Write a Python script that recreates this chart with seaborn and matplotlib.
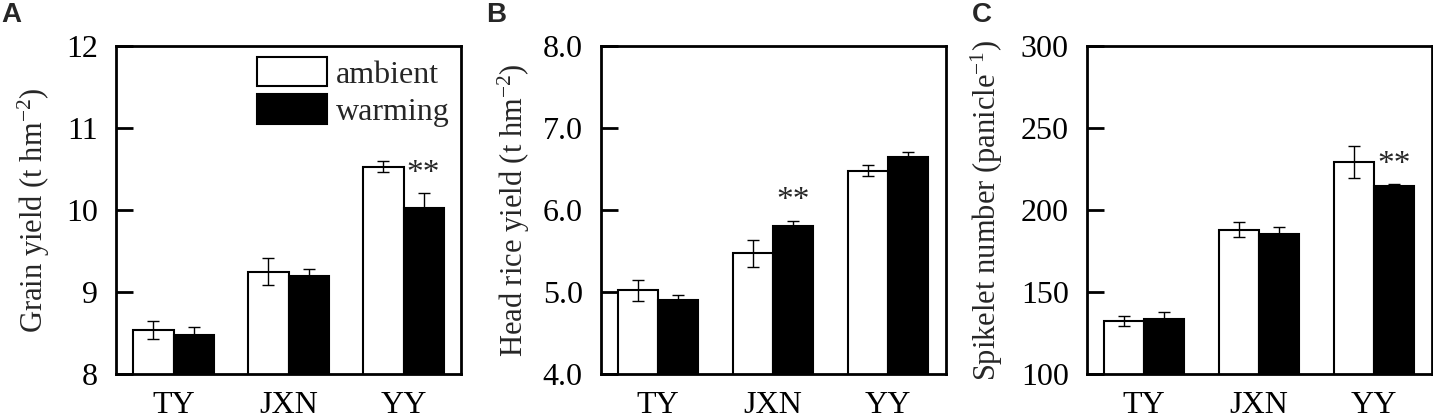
import numpy as np
import pandas as pd
import matplotlib
matplotlib.use("Agg")
import matplotlib.pyplot as plt
import seaborn as sns
from matplotlib.patches import Patch
from matplotlib.ticker import FormatStrFormatter

# cultivars and treatments
cultivars = ["TY", "JXN", "YY"]
treatments = ["ambient", "warming"]

# A: grain yield (t hm-2)
grain_amb = [8.54, 9.25, 10.53]
grain_amb_se = [0.11, 0.17, 0.07]
grain_warm = [8.47, 9.20, 10.02]
grain_warm_se = [0.10, 0.08, 0.19]

# B: head rice yield (t hm-2)
head_amb = [5.02, 5.47, 6.48]
head_amb_se = [0.13, 0.16, 0.07]
head_warm = [4.90, 5.80, 6.65]
head_warm_se = [0.06, 0.07, 0.06]

# C: spikelet number (panicle-1)
spk_amb = [132.3, 188.0, 229.3]
spk_amb_se = [3.3, 4.7, 9.9]
spk_warm = [133.3, 185.4, 214.4]
spk_warm_se = [4.7, 4.4, 1.2]

# significance marks (cultivar index on the warming bar)
stars_a = [2]
stars_b = [1]
stars_c = [2]

sns.set_style("ticks")
plt.rcParams["font.family"] = ["Liberation Serif", "DejaVu Serif"]
plt.rcParams["mathtext.fontset"] = "custom"
plt.rcParams["mathtext.rm"] = "Liberation Serif"
plt.rcParams["mathtext.it"] = "Liberation Serif:italic"

fig = plt.figure(figsize=(14.33, 4.16), dpi=100)

W, H = 1433.0, 416.0
panels = [
    dict(left=116, amb=grain_amb, amb_se=grain_amb_se, warm=grain_warm, warm_se=grain_warm_se,
         ylim=(8, 12), ticks=[8, 9, 10, 11, 12], fmt="%d", stars=stars_a,
         ylabel="Grain yield (t hm$^{\\mathrm{-2}}$)", lab_x=-0.186, letter="A", legend=True),
    dict(left=600.7, amb=head_amb, amb_se=head_amb_se, warm=head_warm, warm_se=head_warm_se,
         ylim=(4, 8), ticks=[4, 5, 6, 7, 8], fmt="%.1f", stars=stars_b,
         ylabel="Head rice yield (t hm$^{\\mathrm{-2}}$)", lab_x=-0.199, letter="B", legend=False),
    dict(left=1086.7, amb=spk_amb, amb_se=spk_amb_se, warm=spk_warm, warm_se=spk_warm_se,
         ylim=(100, 300), ticks=[100, 150, 200, 250, 300], fmt="%d", stars=stars_c,
         ylabel="Spikelet number (panicle$^{\\mathrm{-1}}$)", lab_x=-0.237, letter="C", legend=False),
]

for p in panels:
    ax = fig.add_axes([p["left"] / W, 42 / H, 345 / W, 328 / H])
    df = pd.DataFrame({
        "cultivar": cultivars * 2,
        "treatment": [treatments[0]] * 3 + [treatments[1]] * 3,
        "value": p["amb"] + p["warm"],
    })
    sns.barplot(data=df, x="cultivar", y="value", hue="treatment", order=cultivars,
                hue_order=treatments, palette=["white", "black"], edgecolor="black",
                linewidth=1.5, width=0.7, gap=0, errorbar=None, legend=False, ax=ax)

    # error bars on top of each bar
    for cont, vals, errs in zip(ax.containers, [p["amb"], p["warm"]], [p["amb_se"], p["warm_se"]]):
        xs = [b.get_x() + b.get_width() / 2 for b in cont]
        ax.errorbar(xs, vals, yerr=errs, fmt="none", ecolor="black", elinewidth=1.0,
                    capsize=4.5, capthick=1.0, zorder=5)

    warm_bars = ax.containers[1]
    for i in p["stars"]:
        b = warm_bars[i]
        ax.annotate("**", xy=(b.get_x() + b.get_width() / 2, p["warm"][i] + p["warm_se"][i]),
                    xytext=(0, 14), textcoords="offset points", ha="center", va="center",
                    fontsize=24)

    ax.set_xlim(-0.5, 2.5)
    ax.set_ylim(*p["ylim"])
    ax.set_yticks(p["ticks"])
    ax.yaxis.set_major_formatter(FormatStrFormatter(p["fmt"]))
    ax.set_xlabel("")
    ax.set_ylabel(p["ylabel"], fontsize=22)
    ax.yaxis.set_label_coords(p["lab_x"], 0.5)
    for s in ax.spines.values():
        s.set_visible(True)
        s.set_linewidth(2.0)
        s.set_color("black")
    ax.tick_params(axis="y", direction="in", length=12, width=2.0, labelsize=23, pad=13, colors="black")
    ax.tick_params(axis="x", length=0, labelsize=23, pad=12, colors="black")

    if p["legend"]:
        handles = [Patch(facecolor="white", edgecolor="black", linewidth=1.5),
                   Patch(facecolor="black", edgecolor="black", linewidth=1.5)]
        ax.legend(handles, treatments, loc="upper right", frameon=False, fontsize=23,
                  handlelength=2.2, handleheight=1.03, labelspacing=0.15, handletextpad=0.28,
                  borderpad=0.15, borderaxespad=0.2)

    fig.text((p["left"] - 116) / W + 0.001, 0.995, p["letter"], ha="left", va="top",
             fontsize=20, fontweight="bold", family=["Liberation Sans", "DejaVu Sans"])

fig.savefig("out.png", dpi=100)
